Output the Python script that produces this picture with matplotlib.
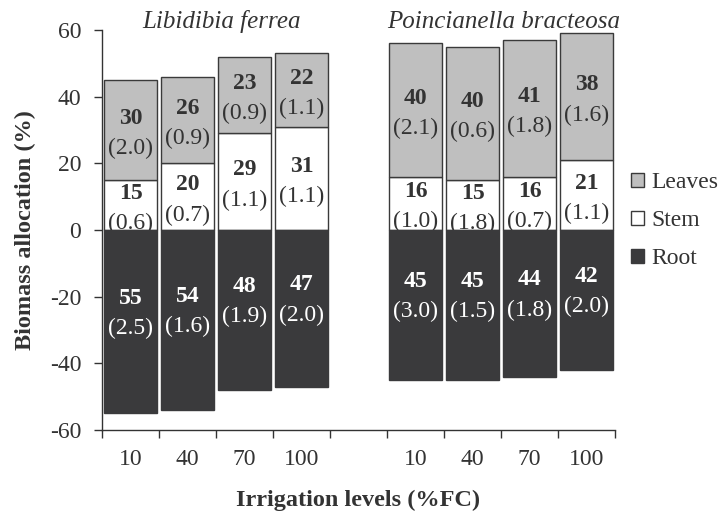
import matplotlib
matplotlib.use("Agg")
import matplotlib.pyplot as plt
import numpy as np
from matplotlib.patches import Patch

plt.rcParams["font.family"] = "Liberation Serif"
plt.rcParams["axes.unicode_minus"] = False

# categories (empty slot between the two species)
levels = ["10", "40", "70", "100", "", "10", "40", "70", "100"]
species = ["Libidibia ferrea", "Poincianella bracteosa"]

root = [55, 54, 48, 47, None, 45, 45, 44, 42]
root_se = ["2.5", "1.6", "1.9", "2.0", None, "3.0", "1.5", "1.8", "2.0"]
stem = [15, 20, 29, 31, None, 16, 15, 16, 21]
stem_se = ["0.6", "0.7", "1.1", "1.1", None, "1.0", "1.8", "0.7", "1.1"]
leaves = [30, 26, 23, 22, None, 40, 40, 41, 38]
leaves_se = ["2.0", "0.9", "0.9", "1.1", None, "2.1", "0.6", "1.8", "1.6"]

c_leaves = "#bfbfbf"
c_root = "#3a3a3c"
c_edge = "#3a3a3a"
c_text = "#333333"

fig = plt.figure(figsize=(7.22, 5.13), dpi=100)
ax = fig.add_axes([0.1413, 0.162, 0.7105, 0.7795])

w = 0.93
fs = 17
gap = 1.4


def label(x, yc, val, se, color, z):
    ax.text(x, yc + gap, str(val), ha="center", va="bottom", fontsize=fs,
            fontweight="bold", color=color, zorder=z)
    ax.text(x, yc - gap, "(" + se + ")", ha="center", va="top", fontsize=fs,
            color=color, zorder=z)


for i in range(len(levels)):
    if root[i] is None:
        continue
    ax.bar(i, stem[i], w, bottom=0, color="white", edgecolor=c_edge,
           linewidth=1, zorder=2)
    ax.bar(i, leaves[i], w, bottom=stem[i], color=c_leaves, edgecolor=c_edge,
           linewidth=1, zorder=2)
    ax.bar(i, -root[i], w, bottom=0, color=c_root, edgecolor=c_root,
           linewidth=1, zorder=4)
    label(i, stem[i] + leaves[i] / 2 - 1, leaves[i], leaves_se[i], c_text, 3)
    label(i, stem[i] / 2 - 1, stem[i], stem_se[i], c_text, 3)
    label(i, -root[i] / 2 + 2.5, root[i], root_se[i], "white", 5)

ax.set_xlim(-0.5, len(levels) - 0.5)
ax.set_ylim(-60, 60)
ax.set_yticks(np.arange(-60, 61, 20))
ax.set_xticks(np.arange(len(levels)))
ax.set_xticklabels(levels)
ax.set_xticks(np.arange(-0.5, len(levels)), minor=True)
ax.tick_params(axis="x", which="major", length=0, pad=14, labelsize=fs,
               colors=c_text)
ax.tick_params(axis="x", which="minor", length=6, width=1, color=c_text)
ax.tick_params(axis="y", length=6, width=1, pad=9, labelsize=fs,
               colors=c_text)

for s in ["top", "right"]:
    ax.spines[s].set_visible(False)
for s in ["left", "bottom"]:
    ax.spines[s].set_color(c_text)
    ax.spines[s].set_linewidth(1)

ax.set_ylabel("Biomass allocation (%)", fontsize=17.5, fontweight="bold",
              color=c_text, labelpad=10)
ax.set_xlabel("Irrigation levels (%FC)", fontsize=17.5, fontweight="bold",
              color=c_text, labelpad=14)

ax.text(1.6, 62.5, species[0], ha="center", va="center", fontsize=18,
        style="italic", color=c_text)
ax.text(6.55, 62.5, species[1], ha="center", va="center", fontsize=18,
        style="italic", color=c_text)

handles = [Patch(facecolor=c_leaves, edgecolor=c_edge, label="Leaves"),
           Patch(facecolor="white", edgecolor=c_edge, label="Stem"),
           Patch(facecolor=c_root, edgecolor=c_root, label="Root")]
fig.legend(handles=handles, loc="center left", bbox_to_anchor=(0.874, 0.57),
           frameon=False, fontsize=fs, handlelength=0.55, handleheight=0.55,
           handletextpad=0.3, labelspacing=0.72, labelcolor=c_text,
           borderpad=0, borderaxespad=0)

fig.savefig("out.png", dpi=100)
